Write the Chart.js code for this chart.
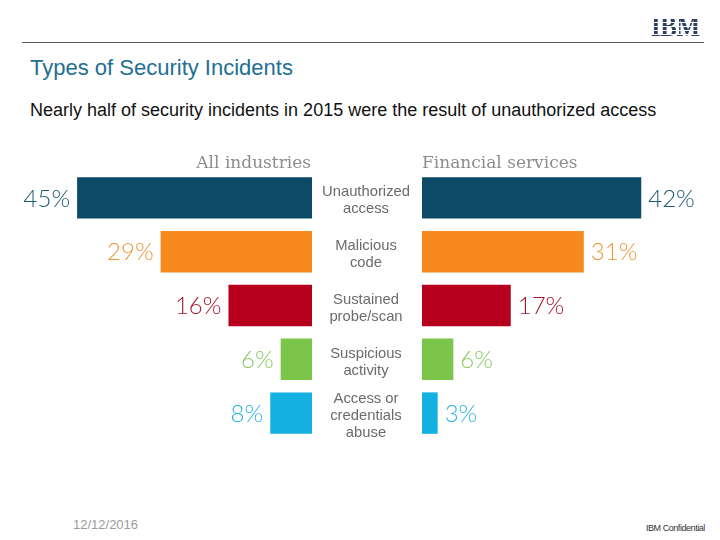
<!DOCTYPE html>
<html>
<head>
<meta charset="utf-8">
<script src="https://cdn.jsdelivr.net/npm/chart.js@4"></script>
<style>
  html, body { margin:0; padding:0; background:#fff; }
  body { width:720px; height:540px; position:relative; overflow:hidden; font-family:"Liberation Sans", Arial, sans-serif; }
  .logo { position:absolute; left:651px; top:11px; font:bold 25px "Liberation Serif", serif; letter-spacing:-0.5px;
          transform-origin:0 0; transform:scaleY(1.2);
          background:repeating-linear-gradient(to bottom, #2e3f66 0px, #2e3f66 2px, transparent 2px, transparent 3.4px);
          -webkit-background-clip:text; background-clip:text; color:transparent; line-height:26px; }
  .rule { position:absolute; left:22px; top:42px; width:682px; height:0; border-top:1.5px solid #555; }
  .title { position:absolute; left:30px; top:55px; font-size:22px; color:#236f93; white-space:nowrap; }
  .sub { position:absolute; left:30px; top:100px; font-size:18px; color:#111; white-space:nowrap; }
  .date { position:absolute; left:73px; top:517px; font-size:13px; color:#9a9a9a; }
  .conf { position:absolute; left:646px; top:523px; font-size:9px; color:#333; letter-spacing:-0.45px; }
  canvas { position:absolute; }
  #left { left:0px; top:140px; }
  #right { left:312px; top:140px; }
</style>
</head>
<body>
<div class="logo">IBM</div>
<div class="rule"></div>
<div class="title">Types of Security Incidents</div>
<div class="sub">Nearly half of security incidents in 2015 were the result of unauthorized access</div>
<canvas id="left" width="312" height="310"></canvas>
<canvas id="right" width="408" height="310"></canvas>
<div class="date">12/12/2016</div>
<div class="conf">IBM Confidential</div>
<script>
const categories = [
  ["Unauthorized", "access"],
  ["Malicious", "code"],
  ["Sustained", "probe/scan"],
  ["Suspicious", "activity"],
  ["Access or", "credentials", "abuse"]
];
const allIndustries = [45, 29, 16, 6, 8];
const financialServices = [42, 31, 17, 6, 3];
const groupTitles = ["All industries", "Financial services"];
const barColors = ["#0d4a65", "#f7891f", "#b7001e", "#7bc64a", "#15b0e2"];
const labelColors = ["#1d5a72", "#f0963a", "#a8172f", "#8acb63", "#2fb4e4"];

const pctLabels = {
  id: "pctLabels",
  afterDatasetsDraw(chart, args, opts) {
    const ctx = chart.ctx;
    const meta = chart.getDatasetMeta(0);
    const data = chart.data.datasets[0].data;
    ctx.save();
    ctx.font = '300 24px Lato, "Open Sans", sans-serif';
    ctx.textBaseline = "middle";
    meta.data.forEach((bar, i) => {
      ctx.fillStyle = labelColors[i];
      if (opts.side === "left") {
        ctx.textAlign = "right";
        ctx.fillText(data[i] + "%", bar.x - 7, bar.y + 1);
      } else {
        ctx.textAlign = "left";
        ctx.fillText(data[i] + "%", bar.x + 7, bar.y + 1);
      }
    });
    const a = chart.chartArea;
    ctx.font = '17px "DejaVu Serif", serif';
    ctx.fillStyle = "#8c8c8c";
    ctx.textBaseline = "alphabetic";
    if (opts.side === "left") {
      ctx.textAlign = "right";
      ctx.fillText(opts.header, a.right - 1, a.top - 3);
    } else {
      ctx.textAlign = "left";
      ctx.fillText(opts.header, a.left, a.top - 3);
    }
    ctx.restore();
  }
};

function makeChart(id, values, side, header) {
  const isLeft = side === "left";
  return new Chart(document.getElementById(id), {
    type: "bar",
    data: {
      labels: categories,
      datasets: [{
        data: values,
        backgroundColor: barColors,
        borderWidth: 0,
        barPercentage: 0.77,
        categoryPercentage: 1.0
      }]
    },
    plugins: [pctLabels],
    options: {
      indexAxis: "y",
      responsive: false,
      animation: false,
      devicePixelRatio: 1,
      layout: { padding: isLeft ? { left: 51, right: 0, top: 31, bottom: 10 } : { left: 0, right: 37, top: 31, bottom: 10 } },
      plugins: {
        legend: { display: false },
        tooltip: { enabled: false },
        pctLabels: { side: side, header: header }
      },
      scales: {
        x: { display: false, min: 0, max: 50, reverse: isLeft },
        y: isLeft ? { display: false } : {
          display: true,
          position: "left",
          grid: { display: false, drawTicks: false },
          border: { display: false },
          afterFit(scale) { scale.width = 110; scale.paddingTop = 0; scale.paddingBottom = 0; },
          ticks: {
            autoSkip: false,
            crossAlign: "center",
            padding: 12,
            labelOffset: 3,
            color: "#6b6b6b",
            font: { family: '"Liberation Sans", Arial, sans-serif', size: 14.8, lineHeight: 1.15 }
          }
        }
      }
    }
  });
}

makeChart("left", allIndustries, "left", groupTitles[0]);
makeChart("right", financialServices, "right", groupTitles[1]);
</script>
</body>
</html>
